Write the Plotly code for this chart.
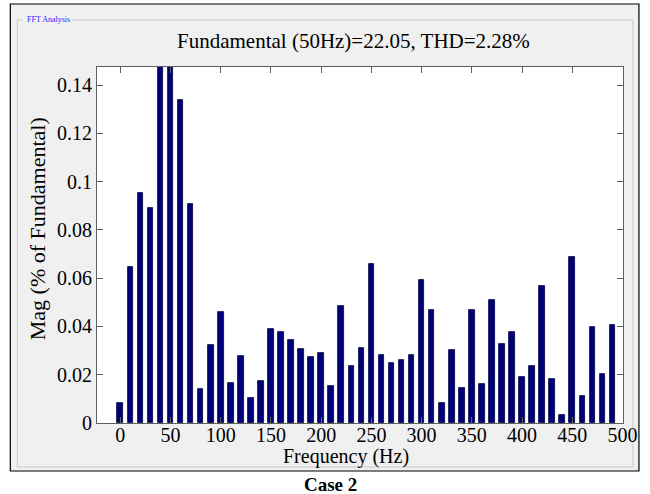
import plotly.graph_objects as go

# Harmonic spectrum, 10 Hz bins (values in % of fundamental)
freqs_hz = [0, 10, 20, 30, 40, 50, 60, 70, 80, 90,
            100, 110, 120, 130, 140, 150, 160, 170, 180, 190,
            200, 210, 220, 230, 240, 250, 260, 270, 280, 290,
            300, 310, 320, 330, 340, 350, 360, 370, 380, 390,
            400, 410, 420, 430, 440, 450, 460, 470, 480, 490]
mag_pct = [0.0084, 0.0647, 0.0954, 0.0892, 0.185, 100.0, 0.1338, 0.0906, 0.0141, 0.0322,
           0.0460, 0.0164, 0.0279, 0.0102, 0.0174, 0.0388, 0.0378, 0.0344, 0.0307, 0.0273,
           0.0289, 0.0155, 0.0486, 0.0236, 0.0312, 0.0659, 0.0282, 0.0250, 0.0260, 0.0283,
           0.0591, 0.0468, 0.0084, 0.0302, 0.0145, 0.0468, 0.0160, 0.0511, 0.0326, 0.0378,
           0.0189, 0.0236, 0.0569, 0.0184, 0.0032, 0.0686, 0.0113, 0.0398, 0.0203, 0.0406]

x_ticks = [0, 50, 100, 150, 200, 250, 300, 350, 400, 450, 500]
y_ticks = [0, 0.02, 0.04, 0.06, 0.08, 0.1, 0.12, 0.14]
y_tick_text = ["0", "0.02", "0.04", "0.06", "0.08", "0.1", "0.12", "0.14"]

title_text = "Fundamental (50Hz)=22.05, THD=2.28%"
panel_text = "FFT Analysis"
caption_text = "Case 2"

W, H = 650, 494
L, R, T, B = 97, 25, 67, 71
PW, PH = W - L - R, H - T - B

def px(x):
    return (x - L) / PW

def py(y):
    return (H - B - y) / PH

SERIF = "Liberation Serif, Times New Roman, serif"

fig = go.Figure()
fig.add_trace(go.Bar(
    x=freqs_hz, y=mag_pct, width=5.6,
    marker=dict(color="#00007a", line=dict(color="#000040", width=0.8)),
))

shapes = [
    # window panel
    dict(type="rect", xref="paper", yref="paper",
         x0=px(10), x1=px(641), y0=py(471), y1=py(4),
         fillcolor="#f0f0f0", line=dict(color="#000000", width=1.2), layer="below"),
    # group box outline
    dict(type="rect", xref="paper", yref="paper",
         x0=px(17), x1=px(635), y0=py(467), y1=py(20),
         fillcolor="rgba(0,0,0,0)", line=dict(color="#c8c8c8", width=1), layer="below"),
    # gap behind the group box caption
    dict(type="rect", xref="paper", yref="paper",
         x0=px(22), x1=px(72), y0=py(24), y1=py(15),
         fillcolor="#f0f0f0", line=dict(width=0), layer="below"),
    # plot area
    dict(type="rect", xref="paper", yref="paper",
         x0=0, x1=1, y0=0, y1=1,
         fillcolor="#ffffff", line=dict(width=0), layer="below"),
]

annotations = [
    dict(text=panel_text, xref="paper", yref="paper", x=px(25), y=py(20),
         xanchor="left", yanchor="middle", showarrow=False,
         font=dict(family=SERIF, size=8, color="#2b2bff")),
    dict(text=title_text, xref="paper", yref="paper", x=px(354), y=py(41),
         xanchor="center", yanchor="middle", showarrow=False,
         font=dict(family=SERIF, size=21, color="#000000")),
    dict(text="Frequency (Hz)", xref="paper", yref="paper", x=px(347), y=py(457),
         xanchor="center", yanchor="middle", showarrow=False,
         font=dict(family=SERIF, size=20, color="#000000")),
    dict(text="Mag (% of Fundamental)", xref="paper", yref="paper", x=px(37), y=py(229),
         xanchor="center", yanchor="middle", showarrow=False, textangle=-90,
         font=dict(family=SERIF, size=22, color="#000000")),
    dict(text="<b>" + caption_text + "</b>", xref="paper", yref="paper", x=px(331), y=py(484),
         xanchor="center", yanchor="middle", showarrow=False,
         font=dict(family=SERIF, size=19, color="#000000")),
]

axis_common = dict(
    showgrid=False, zeroline=False, showline=True, mirror="ticks",
    linecolor="#5e5e5e", linewidth=1, ticks="inside", ticklen=6,
    tickcolor="#5e5e5e", tickwidth=1,
    tickfont=dict(family=SERIF, size=20, color="#000000"),
)

fig.update_layout(
    width=W, height=H,
    margin=dict(l=L, r=R, t=T, b=B, pad=0),
    paper_bgcolor="#ffffff", plot_bgcolor="#ffffff",
    showlegend=False, bargap=0,
    shapes=shapes, annotations=annotations,
    xaxis=dict(range=[-23.2, 500.5], tickvals=x_ticks, ticklabelstandoff=-6, **axis_common),
    yaxis=dict(range=[0, 0.1475], tickvals=y_ticks, ticktext=y_tick_text, **axis_common),
)

fig.write_html("out.html")
